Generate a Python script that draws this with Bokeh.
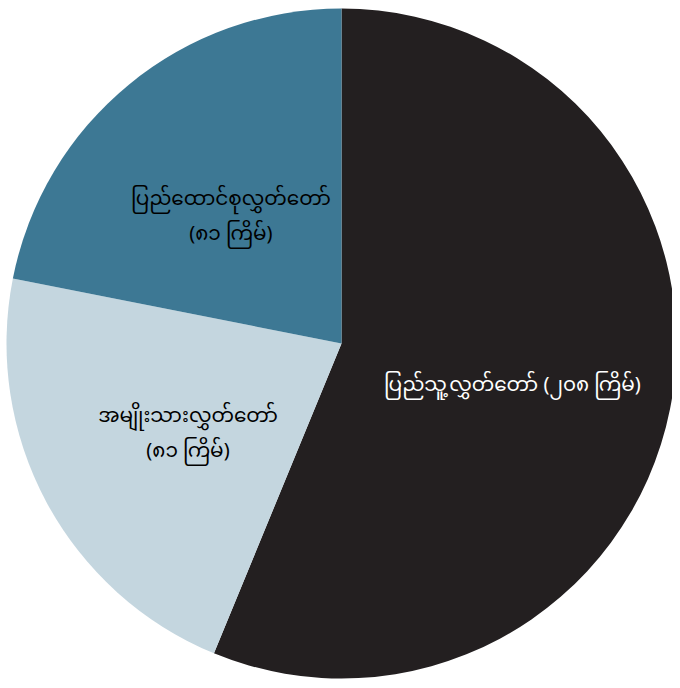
import numpy as np
from bokeh.plotting import figure
from bokeh.models import ColumnDataSource, Range1d
from bokeh.core.properties import value
from bokeh.embed import file_html
from bokeh.resources import INLINE

names = ["ပြည်သူ့လွှတ်တော်", "အမျိုးသားလွှတ်တော်", "ပြည်ထောင်စုလွှတ်တော်"]
counts = [208, 81, 81]
count_labels = ["၂၀၈", "၈၁", "၈၁"]
colors = ["#231f20", "#c4d6df", "#3d7894"]
text_colors = ["#ffffff", "#000000", "#000000"]

W, H = 672, 680
cx, cy, R = 341, 337, 335

total = sum(counts)
fr = np.array(counts) / total
ends = np.cumsum(fr) * 2 * np.pi
starts = np.concatenate([[0], ends[:-1]])
start_angle = np.pi / 2 - starts
end_angle = np.pi / 2 - ends
mid = (start_angle + end_angle) / 2

labels = [
    f"{names[0]} ({count_labels[0]} ကြိမ်)",
    f"{names[1]}\n({count_labels[1]} ကြိမ်)",
    f"{names[2]}\n({count_labels[2]} ကြိမ်)",
]
lr = 0.52 * R
src = ColumnDataSource(dict(
    start=start_angle, end=end_angle, color=colors,
    lx=cx + lr * np.cos(mid), ly=cy + lr * np.sin(mid),
    label=labels, tcolor=text_colors,
))

p = figure(width=W, height=H, output_backend="svg", toolbar_location=None,
           x_range=Range1d(0, W), y_range=Range1d(0, H), min_border=0)
p.axis.visible = False
p.grid.visible = False
p.outline_line_color = None
p.background_fill_color = "white"
p.border_fill_color = "white"

p.wedge(x=cx, y=cy, radius=R, start_angle="start", end_angle="end",
        direction="clock", fill_color="color", line_color=None, source=src)
p.text(x="lx", y="ly", text="label", text_color="tcolor", source=src,
       text_align="center", text_baseline="middle", text_font_size="20px",
       text_font=value("Noto Sans Myanmar"), text_line_height=0.82,
       y_offset=9)

open("out.html", "w").write(file_html(p, INLINE))
